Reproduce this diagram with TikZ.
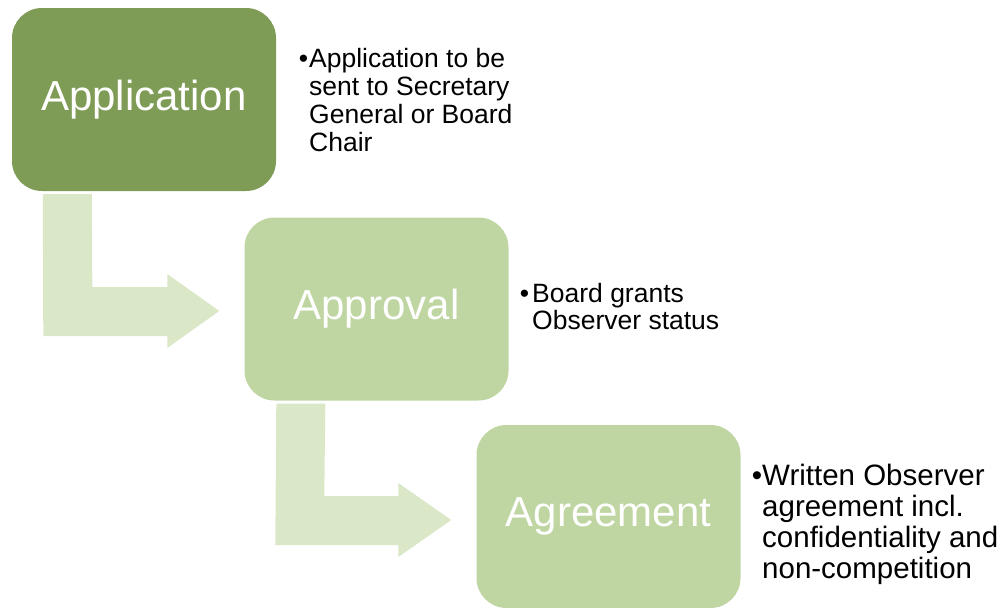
\documentclass[tikz,border=0pt]{standalone}
\usepackage{fontspec}
\setmainfont{Liberation Sans}
\usetikzlibrary{calc}
\definecolor{darkbox}{HTML}{7F9C57}
\definecolor{lightbox}{HTML}{BFD6A3}
\definecolor{arrowfill}{HTML}{DAE8C8}
\tikzset{
  stepbox/.style={rectangle, rounded corners=30pt, minimum width=264pt, minimum height=183pt,
    inner sep=0pt, text=white, font=\fontsize{42}{50}\selectfont},
  bulletnote/.style={anchor=base west, inner sep=0pt, text=black},
  bentarrow/.style={fill=arrowfill, draw=none}
}
\begin{document}
\begin{tikzpicture}[x=1pt,y=-1pt]
\useasboundingbox (0,0) rectangle (1002,608);
% boxes
\node[stepbox, fill=darkbox] (b1) at (144,99.5) {Application};
\node[stepbox, fill=lightbox] (b2) at (376.5,309) {Approval};
\node[stepbox, fill=lightbox] (b3) at (608.5,516.5) {Agreement};
% bent arrows
\fill[bentarrow] ($(b1.south west)+(31,3)$) -- ($(b1.south west)+(80,3)$)
  -- ($(b2.west)+(-152,-22)$) -- ($(b2.west)+(-77,-22)$) -- ($(b2.west)+(-77,-35)$)
  -- ($(b2.west)+(-25,2)$) -- ($(b2.west)+(-77,39)$) -- ($(b2.west)+(-77,27)$)
  -- ($(b2.west)+(-201,27)$) -- cycle;
\fill[bentarrow] ($(b2.south west)+(32,3)$) -- ($(b2.south west)+(81,3)$)
  -- ($(b3.west)+(-152,-20.5)$) -- ($(b3.west)+(-78,-20.5)$) -- ($(b3.west)+(-78,-33.5)$)
  -- ($(b3.west)+(-25,3.5)$) -- ($(b3.west)+(-78,40.5)$) -- ($(b3.west)+(-78,28.5)$)
  -- ($(b3.west)+(-201,28.5)$) -- cycle;
% notes
\node[bulletnote] (n1) at (309,67) {\fontsize{26.5}{28}\selectfont
  \begin{tabular}[t]{@{}l@{}}\llap{\textbullet\hspace{1pt}}Application to be\\sent to Secretary\\General or Board\\Chair\end{tabular}};
\node[bulletnote] (n2) at (532,302) {\fontsize{26.5}{26.5}\selectfont
  \begin{tabular}[t]{@{}l@{}}\llap{\textbullet\hspace{3pt}}Board grants\\Observer status\end{tabular}};
\node[bulletnote] (n3) at (762,485) {\fontsize{29.5}{31}\selectfont
  \begin{tabular}[t]{@{}l@{}}\llap{\textbullet}Written Observer\\agreement incl.\\confidentiality and\\non-competition\end{tabular}};
\end{tikzpicture}
\end{document}
